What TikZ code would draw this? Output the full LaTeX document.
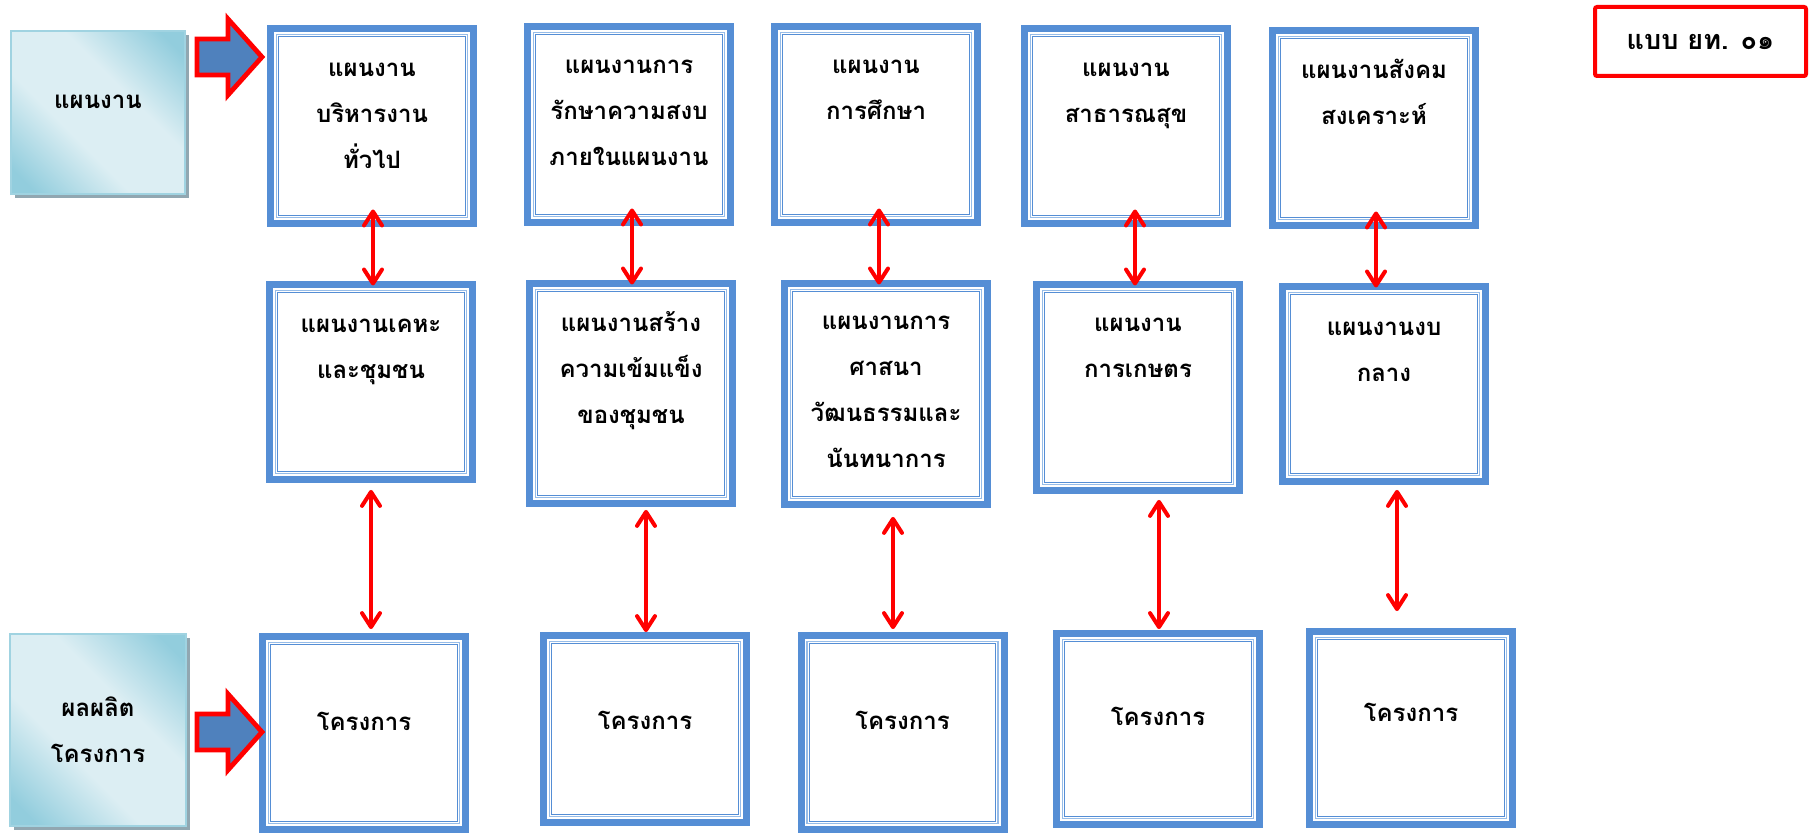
\documentclass[tikz,border=0pt]{standalone}
\usepackage{fontspec}
\newfontfamily\thaifont[Script=Thai]{Loma}
\usepackage{xcolor}
\usetikzlibrary{positioning}
\usetikzlibrary{arrows.meta}
\usetikzlibrary{shadows}

\definecolor{planblue}{RGB}{85,142,213}
\definecolor{planthin}{RGB}{150,188,232}
\definecolor{arrowblue}{RGB}{79,129,189}
\definecolor{skylight}{RGB}{220,238,243}
\definecolor{skydark}{RGB}{146,205,221}
\definecolor{skyedge}{RGB}{160,211,225}
\definecolor{shadowgray}{RGB}{145,167,177}

\pgfdeclarehorizontalshading{sky}{100bp}{color(0bp)=(skydark); color(20bp)=(skydark); color(40bp)=(skylight); color(60bp)=(skylight); color(80bp)=(skydark); color(100bp)=(skydark)}

\begin{document}
\begin{tikzpicture}[x=0.5pt, y=-0.5pt,
    thai/.style={font=\thaifont\bfseries\fontsize{12}{23}\selectfont},
    box/.style 2 args={draw=planblue, line width=3.5pt, fill=white, inner sep=0pt, outer sep=0pt,
        minimum width=#1*0.5pt-3.5pt, minimum height=#2*0.5pt-3.5pt},
    side/.style 2 args={draw=skyedge, line width=0.8pt, shade, shading=sky, shading angle=45,
        drop shadow={shadow xshift=2pt, shadow yshift=-2pt, fill=shadowgray, opacity=1},
        inner sep=0pt, outer sep=0pt, thai, align=center,
        minimum width=#1*0.5pt-0.8pt, minimum height=#2*0.5pt-0.8pt},
    words/.style={thai, align=center, inner sep=0pt},
    link/.style={red, line width=2pt,
        {Straight Barb[length=7pt,width=9pt,round]}-{Straight Barb[length=7pt,width=9pt,round]}},
    fat/.style={draw=red, line width=2.4pt, fill=arrowblue, line join=miter}]

\useasboundingbox (0,0) rectangle (1809,833);

% side boxes
\node[side={176}{165}, text depth=10.4pt] (plan) at (98,112.5) {แผนงาน};
\node[side={178}{194}] (output) at (98,730) {ผลผลิต\\โครงการ};

% row 1
\node[box={210}{202}] (a1) at (372,126) {};
\node[box={210}{203}] (a2) at (629,124.5) {};
\node[box={210}{203}] (a3) at (876,124.5) {};
\node[box={210}{202}] (a4) at (1126,126) {};
\node[box={210}{202}] (a5) at (1374,128) {};

% row 2
\node[box={210}{202}] (b1) at (371,382) {};
\node[box={210}{227}] (b2) at (631,393.5) {};
\node[box={210}{228}] (b3) at (886,394) {};
\node[box={210}{213}] (b4) at (1138,387.5) {};
\node[box={210}{202}] (b5) at (1384,384) {};

% row 3
\node[box={210}{200}] (c1) at (364,733) {};
\node[box={210}{194}] (c2) at (645,729) {};
\node[box={210}{201}] (c3) at (902.5,732.5) {};
\node[box={210}{198}] (c4) at (1158,729) {};
\node[box={210}{200}] (c5) at (1411,728) {};

% thin inner frames
\foreach \n in {a1,a2,a3,a4,a5,b1,b2,b3,b4,b5,c1,c2,c3,c4,c5} {
    \draw[planthin, line width=0.65pt] ([shift={(6.1,6.1)}]\n.north west) rectangle ([shift={(-6.1,-6.1)}]\n.south east);
    \draw[planblue, line width=0.5pt] ([shift={(8.3,8.3)}]\n.north west) rectangle ([shift={(-8.3,-8.3)}]\n.south east);
}

\node[words, below=7.7pt of a1.north] (a1t) {\strut แผนงาน\\บริหารงาน\\ทั่วไป};
\node[words, below=7.2pt of a2.north] (a2t) {\strut แผนงานการ\\รักษาความสงบ\\ภายในแผนงาน};
\node[words, below=7.2pt of a3.north] (a3t) {\strut แผนงาน\\การศึกษา};
\node[words, below=7.7pt of a4.north] (a4t) {\strut แผนงาน\\สาธารณสุข};
\node[words, below=7.7pt of a5.north] (a5t) {\strut แผนงานสังคม\\สงเคราะห์};

\node[words, below=7.7pt of b1.north] (b1t) {\strut แผนงานเคหะ\\และชุมชน};
\node[words, below=7.7pt of b2.north] (b2t) {\strut แผนงานสร้าง\\ความเข้มแข็ง\\ของชุมชน};
\node[words, below=6.7pt of b3.north] (b3t) {\strut แผนงานการ\\ศาสนา\\วัฒนธรรมและ\\นันทนาการ};
\node[words, below=7.2pt of b4.north] (b4t) {\strut แผนงาน\\การเกษตร};
\node[words, below=8.2pt of b5.north] (b5t) {\strut แผนงานงบ\\กลาง};

\node[words, below=30.7pt of c1.north] (c1t) {\strut โครงการ};
\node[words, below=30.7pt of c2.north] (c2t) {\strut โครงการ};
\node[words, below=30.7pt of c3.north] (c3t) {\strut โครงการ};
\node[words, below=29.7pt of c4.north] (c4t) {\strut โครงการ};
\node[words, below=28.7pt of c5.north] (c5t) {\strut โครงการ};

% form label
\node[draw=red, line width=2pt, rounded corners=1pt, minimum width=105.5pt, minimum height=34.5pt,
    inner sep=0pt, font=\thaifont\bfseries\fontsize{13.5}{16}\selectfont] (form) at (1700.5,41.5) {แบบ ยท. ๐๑};

% fat arrows
\coordinate (tip1) at (262,57);
\coordinate (tip2) at (262,732);
\foreach \t in {tip1,tip2}
    \draw[fat] (\t) -- ++(-34,-38) -- ++(0,20) -- ++(-31,0) -- ++(0,36) -- ++(31,0) -- ++(0,20) -- cycle;

% red links
\foreach \p/\q/\x in {a1/b1/373, a2/b2/632, a3/b3/879, a4/b4/1135, a5/b5/1376}
    \draw[link, shorten <=-7pt, shorten >=-0.5pt] (\x,0 |- \p.south) -- (\x,0 |- \q.north);
\foreach \p/\q/\x/\s/\e in {b1/c1/371/5.2pt/3.7pt, b2/c2/646/3.2pt/1.7pt, b3/c3/893/6.2pt/3.2pt, b4/c4/1159/4.7pt/2.2pt, b5/c5/1397/4.2pt/10.2pt}
    \draw[link, shorten <=\s, shorten >=\e] (\x,0 |- \p.south) -- (\x,0 |- \q.north);

\end{tikzpicture}
\end{document}
